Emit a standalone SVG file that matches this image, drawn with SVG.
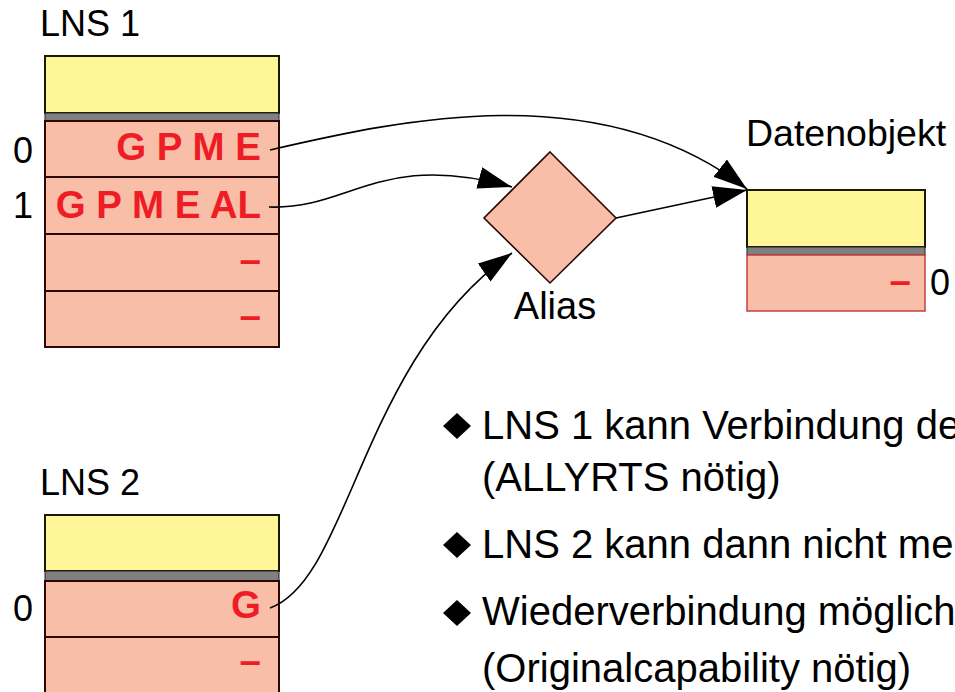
<svg xmlns="http://www.w3.org/2000/svg" width="955" height="692" viewBox="0 0 955 692">
<defs>
<style>
text{font-family:"Liberation Sans",Arial,sans-serif;}
.lbl{font-size:36px;fill:#000;}
.big{font-size:40px;fill:#000;}
.cap{font-size:38.5px;font-weight:bold;fill:#ee1c25;text-anchor:end;}
.yel{fill:#fff599;stroke:#1a1a00;stroke-width:2;}
.gry{fill:#808080;stroke:#222;stroke-width:1;}
.pnk{fill:#f9bea7;stroke:#2b0808;stroke-width:2;}
.con{fill:none;stroke:#000;stroke-width:1.6;}
</style>
<marker id="ah" markerUnits="userSpaceOnUse" markerWidth="36" markerHeight="24" refX="34" refY="11" orient="auto">
<path d="M0,0 L34,11 L0,22 z" fill="#000"/>
</marker>
</defs>
<rect width="955" height="692" fill="#fff"/>

<g id="lns1">
<text class="lbl" x="40" y="36">LNS 1</text>
<rect class="yel" x="45" y="56" width="234" height="57"/>
<rect class="gry" x="45" y="113" width="234" height="8"/>
<rect class="pnk" x="45" y="121" width="234" height="56"/>
<rect class="pnk" x="45" y="177" width="234" height="57"/>
<rect class="pnk" x="45" y="234" width="234" height="57"/>
<rect class="pnk" x="45" y="291" width="234" height="56"/>
<text class="lbl" x="13" y="163">0</text>
<text class="lbl" x="13" y="218">1</text>
<text class="cap" x="261" y="160">G P M E</text>
<text class="cap" x="261" y="218">G P M E AL</text>
<text class="cap" x="261" y="273">–</text>
<text class="cap" x="261" y="329">–</text>
</g>

<g id="lns2">
<text class="lbl" x="40" y="495">LNS 2</text>
<rect class="yel" x="45" y="515" width="234" height="56"/>
<rect class="gry" x="45" y="571" width="234" height="10"/>
<rect class="pnk" x="45" y="581" width="234" height="56"/>
<rect class="pnk" x="45" y="637" width="234" height="70"/>
<text class="lbl" x="13" y="621">0</text>
<text class="cap" x="261" y="618">G</text>
<text class="cap" x="261" y="674">–</text>
</g>

<g id="alias">
<polygon class="pnk" style="stroke-width:1.6" points="550,152 616,218 550,283 484,218"/>
<text class="lbl" style="font-size:38px" x="555" y="319" text-anchor="middle">Alias</text>
</g>

<g id="datenobjekt">
<text class="lbl" style="font-size:37.5px" x="746" y="146">Datenobjekt</text>
<rect class="yel" x="747" y="190" width="178" height="57"/>
<rect class="gry" x="747" y="247" width="178" height="8"/>
<rect class="pnk" style="stroke:#c04040;stroke-width:1.5" x="747" y="255" width="178" height="56"/>
<text class="cap" x="911" y="294">–</text>
<text class="lbl" x="930" y="295">0</text>
</g>

<g id="connectors">
<path class="con" d="M270,150 C400,120 600,75 747,189" marker-end="url(#ah)"/>
<path class="con" d="M269,207 C350,210 380,150 512,187" marker-end="url(#ah)"/>
<path class="con" d="M270,608 C350,580 360,360 512,253" marker-end="url(#ah)"/>
<path class="con" d="M616,218 L747,190" marker-end="url(#ah)"/>
</g>

<g id="bullets">
<polygon points="457,413 471,426 457,439 443,426" fill="#000"/>
<polygon points="457,532 471,545 457,558 443,545" fill="#000"/>
<polygon points="457,600 471,613 457,626 443,613" fill="#000"/>
<text class="big" x="482" y="439">LNS 1 kann Verbindung de</text>
<text class="big" x="482" y="491">(ALLYRTS nötig)</text>
<text class="big" x="482" y="558">LNS 2 kann dann nicht me</text>
<text class="big" x="482" y="625">Wiederverbindung möglich</text>
<text class="big" x="482" y="682">(Originalcapability nötig)</text>
</g>
</svg>
